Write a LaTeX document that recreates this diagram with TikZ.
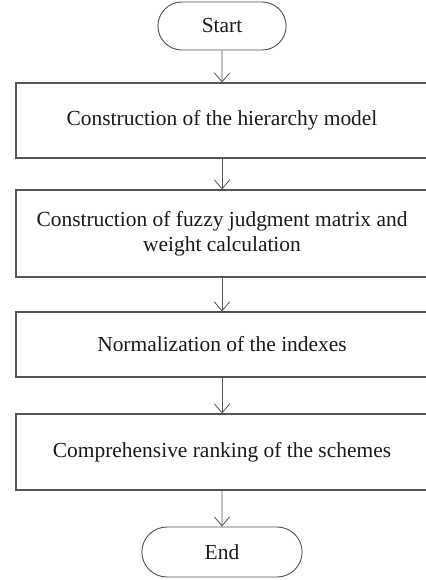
\documentclass[tikz,border=0pt]{standalone}
\usepackage{fontspec}
\setmainfont{Liberation Serif}
\usetikzlibrary{arrows.meta, positioning, shapes}
\definecolor{lineColor}{RGB}{85,85,85}
\definecolor{textColor}{RGB}{25,25,25}

\begin{document}
\begin{tikzpicture}[
    step_box/.style={draw=lineColor, line width=0.9pt, minimum width=12.36cm, text=textColor, align=center},
    terminal/.style={draw=lineColor, line width=0.8pt, rounded rectangle, minimum height=1.44cm, text=textColor},
    >={Straight Barb[length=0.27cm, width=0.46cm]},
    every node/.style={font=\fontsize{18.3}{21}\selectfont}
]

% Fix the page to the reference size
\useasboundingbox (0,0) rectangle (12.75,-17.4);

% Column centre
\def\midx{6.66}

% Start
\node[terminal, minimum width=4.08cm] (start) at (\midx,-0.78) {Start};

% Steps
\node[step_box, minimum height=2.25cm] (hier) at (\midx,-3.615) {Construction of the hierarchy model};
\node[step_box, minimum height=2.61cm] (fuzzy) at (\midx,-7.005) {Construction of fuzzy judgment matrix and\\weight calculation};
\node[step_box, minimum height=1.95cm] (norm) at (\midx,-10.335) {Normalization of the indexes};
\node[step_box, minimum height=2.28cm] (rank) at (\midx,-13.56) {Comprehensive ranking of the schemes};

% End
\node[terminal, minimum width=5.04cm, minimum height=1.5cm] (end) at (\midx,-16.56) {End};

% Connections
\draw[->, line width=0.7pt, lineColor] (start) -- (hier);
\draw[->, line width=0.7pt, lineColor] (hier) -- (fuzzy);
\draw[->, line width=0.7pt, lineColor] (fuzzy) -- (norm);
\draw[->, line width=0.7pt, lineColor] (norm) -- (rank);
\draw[->, line width=0.7pt, lineColor] (rank) -- (end);

\end{tikzpicture}
\end{document}
